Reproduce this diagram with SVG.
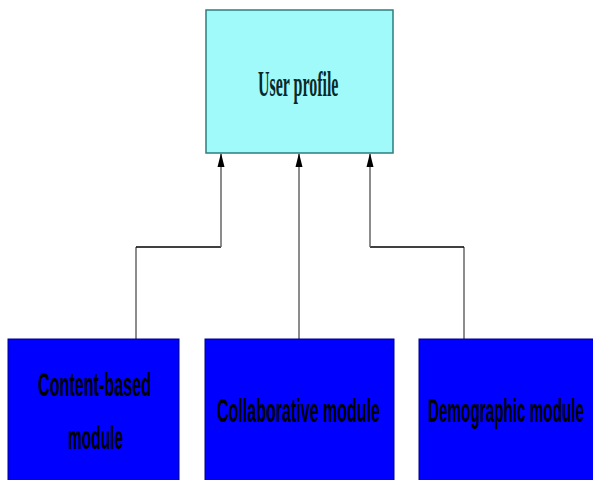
<svg xmlns="http://www.w3.org/2000/svg" width="593" height="480" viewBox="0 0 593 480">
<style>
.mod{fill:#0000ff;stroke:#00008b;stroke-width:1}
.prof{fill:#a0fafa;stroke:#2e7d7d;stroke-width:1.5}
.mt{font-family:"Liberation Sans",Arial,sans-serif;font-size:34px;font-weight:bold;fill:#000;}
.pt{font-family:"Liberation Serif","Times New Roman",serif;font-size:36px;font-weight:bold;fill:#0a2a2a;}
.c{fill:none;stroke:#666;stroke-width:1.5}
.h{fill:none;stroke:#000;stroke-width:1.5}
</style>
<defs>
<marker id="ah" markerWidth="8" markerHeight="14" refX="4" refY="1" orient="0" markerUnits="userSpaceOnUse">
<path d="M4,0 L7.5,14 L0.5,14 Z" fill="#000"/>
</marker>
</defs>
<rect width="593" height="480" fill="#fff"/>
<g id="connectors">
<path class="c" d="M136,339 V247"/>
<path class="h" d="M136,247 H221"/>
<path class="c" d="M221,247 V154" marker-end="url(#ah)"/>
<path class="c" d="M299,339 V154" marker-end="url(#ah)"/>
<path class="c" d="M464,339 V247"/>
<path class="h" d="M464,247 H370"/>
<path class="c" d="M370,247 V154" marker-end="url(#ah)"/>
</g>
<g id="user-profile">
<rect class="prof" x="206" y="10" width="187" height="143"/>
<text class="pt" transform="translate(258,96) scale(0.443,1)">User profile</text>
</g>
<g id="content-based-module">
<rect class="mod" x="8" y="339" width="171" height="145"/>
<text class="mt" transform="translate(38,396) scale(0.475,1)">Content-based</text>
<text class="mt" transform="translate(68,449) scale(0.455,1)">module</text>
</g>
<g id="collaborative-module">
<rect class="mod" x="205" y="339" width="189" height="145"/>
<text class="mt" transform="translate(217,422) scale(0.4715,1)">Collaborative module</text>
</g>
<g id="demographic-module">
<rect class="mod" x="419" y="339" width="180" height="145"/>
<text class="mt" transform="translate(428,422) scale(0.449,1)">Demographic module</text>
</g>
</svg>
